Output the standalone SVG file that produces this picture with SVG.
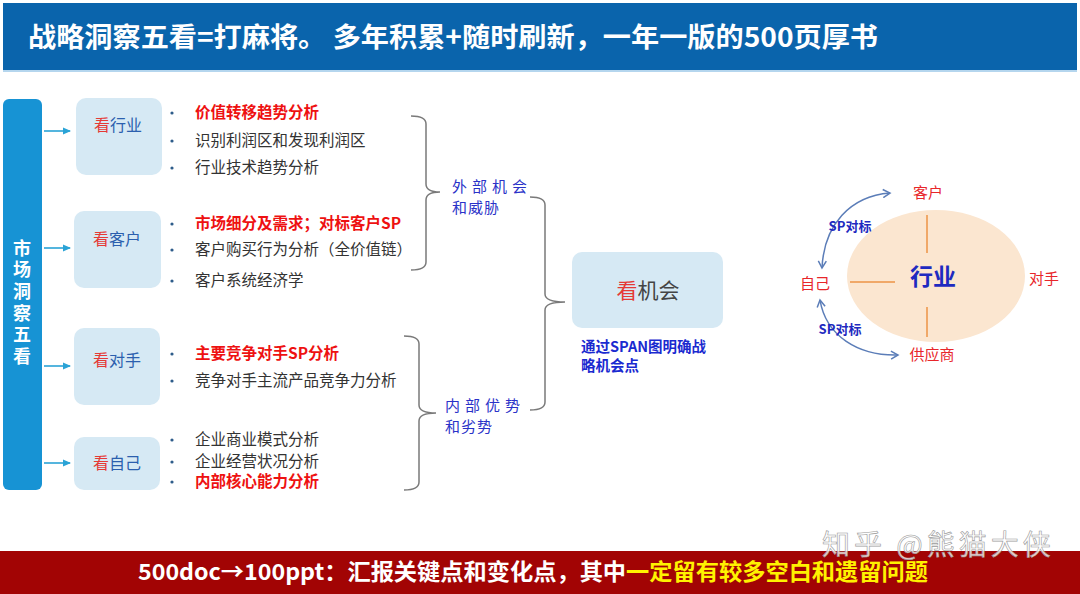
<svg xmlns="http://www.w3.org/2000/svg" width="1080" height="594" viewBox="0 0 1080 594">
<defs>
<style>
text{font-family:"Noto Sans CJK SC","Liberation Sans",sans-serif;}
.box{fill:#D6E9F4;}
.item{font-size:15.5px;fill:#333333;}
.hot{font-size:15.5px;fill:#EE1111;font-weight:bold;}
.dot{fill:#2E5C8A;}
.arr{stroke:#2AA3D6;stroke-width:1.6;fill:none;marker-end:url(#ah);}
.brace{stroke:#7A7A7A;stroke-width:1.5;fill:none;}
.lbl{font-size:15px;fill:#2A32C8;letter-spacing:5px;}
.kan{fill:#E53935;}
.bt{font-size:16px;fill:#2B5FAE;}
.red{font-size:15px;fill:#E8262A;}
.sp{font-size:13px;fill:#1E2AC0;font-weight:bold;}
.curve{stroke:#5B7DB8;stroke-width:1.5;fill:none;marker-end:url(#ah2);marker-start:url(#ah2s);}
.orange{stroke:#F0A868;stroke-width:2;}
.side{font-size:18px;fill:#FFFFFF;font-weight:bold;writing-mode:vertical-rl;letter-spacing:3.6px;}
</style>
<marker id="ah" markerWidth="8" markerHeight="8" refX="7" refY="4" orient="auto" markerUnits="userSpaceOnUse">
<path d="M0,0.5 L8,4 L0,7.5 Z" fill="#2AA3D6"/>
</marker>
<marker id="ah2" markerWidth="10" markerHeight="10" refX="8" refY="5" orient="auto" markerUnits="userSpaceOnUse">
<path d="M1,1 L8,5 L1,9" fill="none" stroke="#5B7DB8" stroke-width="1.5"/>
</marker>
<marker id="ah2s" markerWidth="10" markerHeight="10" refX="2" refY="5" orient="auto" markerUnits="userSpaceOnUse">
<path d="M9,1 L2,5 L9,9" fill="none" stroke="#5B7DB8" stroke-width="1.5"/>
</marker>
</defs>
<rect width="1080" height="594" fill="#FFFFFF"/>

<g id="title">
<rect x="3" y="3" width="1074" height="67" fill="#0A64AC"/>
<line x1="3" y1="71" x2="1077" y2="71" stroke="#9CC8E8" stroke-width="1.5"/>
<text x="28" y="47" font-size="27" font-weight="bold" fill="#FFFFFF" textLength="850" lengthAdjust="spacingAndGlyphs">战略洞察五看=打麻将。 多年积累+随时刷新，一年一版的500页厚书</text>
</g>

<g id="side">
<rect x="3" y="99" width="39" height="391" rx="6" fill="#1793D4"/>
<text x="22" y="239" class="side">市场洞察五看</text>
</g>

<g id="connectors">
<line x1="44" y1="131" x2="70" y2="131" class="arr"/>
<line x1="44" y1="248" x2="70" y2="248" class="arr"/>
<line x1="44" y1="366" x2="70" y2="366" class="arr"/>
<line x1="44" y1="463" x2="70" y2="463" class="arr"/>
<path class="brace" d="M411,116 Q426,116 426,124 L426,184 Q426,192 440,192 Q426,192 426,200 L426,262 Q426,270 411,270"/>
<path class="brace" d="M404,336 Q419,336 419,344 L419,405 Q419,413 436,413 Q419,413 419,421 L419,482 Q419,490 404,490"/>
<path class="brace" d="M530,197 Q545,197 545,205 L545,294 Q545,302 565,302 Q545,302 545,310 L545,402 Q545,410 530,410"/>
<path class="curve" d="M822,268 C824,225 850,196 890,193"/>
<path class="curve" d="M820,300 C826,336 858,356 898,355"/>
</g>

<g id="n-industry">
<rect class="box" x="76" y="98" width="86" height="77" rx="10"/>
<text x="118" y="131" text-anchor="middle" class="bt"><tspan class="kan">看</tspan>行业</text>
</g>
<g id="n-customer">
<rect class="box" x="74" y="211" width="87" height="77" rx="10"/>
<text x="117" y="245" text-anchor="middle" class="bt"><tspan class="kan">看</tspan>客户</text>
</g>
<g id="n-rival">
<rect class="box" x="74" y="328" width="86" height="77" rx="10"/>
<text x="117" y="366" text-anchor="middle" class="bt"><tspan class="kan">看</tspan>对手</text>
</g>
<g id="n-self">
<rect class="box" x="74" y="437" width="86" height="53" rx="10"/>
<text x="117" y="469" text-anchor="middle" class="bt"><tspan class="kan">看</tspan>自己</text>
</g>

<g id="bullets">
<circle class="dot" cx="172" cy="113" r="1.6"/><text x="195" y="118" class="hot">价值转移趋势分析</text>
<circle class="dot" cx="172" cy="141" r="1.6"/><text x="195" y="146" class="item">识别利润区和发现利润区</text>
<circle class="dot" cx="172" cy="168" r="1.6"/><text x="195" y="173" class="item">行业技术趋势分析</text>
<circle class="dot" cx="172" cy="224" r="1.6"/><text x="195" y="229" class="hot">市场细分及需求；对标客户SP</text>
<circle class="dot" cx="172" cy="250" r="1.6"/><text x="195" y="255" class="item">客户购买行为分析（全价值链）</text>
<circle class="dot" cx="172" cy="281" r="1.6"/><text x="195" y="286" class="item">客户系统经济学</text>
<circle class="dot" cx="172" cy="354" r="1.6"/><text x="195" y="359" class="hot">主要竞争对手SP分析</text>
<circle class="dot" cx="172" cy="381" r="1.6"/><text x="195" y="386" class="item">竞争对手主流产品竞争力分析</text>
<circle class="dot" cx="172" cy="440" r="1.6"/><text x="195" y="445" class="item">企业商业模式分析</text>
<circle class="dot" cx="172" cy="462" r="1.6"/><text x="195" y="467" class="item">企业经营状况分析</text>
<circle class="dot" cx="172" cy="482" r="1.6"/><text x="195" y="487" class="hot">内部核心能力分析</text>
</g>

<g id="label-external">
<text x="452" y="192" class="lbl">外部机会</text>
<text x="452" y="213" class="lbl" style="letter-spacing:1px">和威胁</text>
</g>
<g id="label-internal">
<text x="445" y="411" class="lbl">内部优势</text>
<text x="445" y="432" class="lbl" style="letter-spacing:1px">和劣势</text>
</g>

<g id="n-opportunity">
<rect class="box" x="572" y="252" width="151" height="76" rx="10"/>
<text x="648" y="298" text-anchor="middle" font-size="21" fill="#444444"><tspan class="kan">看</tspan>机会</text>
<text x="581" y="352" font-size="14.5" font-weight="bold" fill="#1A2AD0">通过SPAN图明确战</text>
<text x="581" y="371" font-size="14.5" font-weight="bold" fill="#1A2AD0">略机会点</text>
</g>

<g id="industry-map">
<ellipse cx="936" cy="276" rx="89" ry="66" fill="#FBE6D0"/>
<line class="orange" x1="927" y1="215" x2="927" y2="253"/>
<line class="orange" x1="850" y1="282" x2="895" y2="282"/>
<line class="orange" x1="927" y1="307" x2="927" y2="337"/>
<text x="933" y="285" text-anchor="middle" font-size="23" font-weight="bold" fill="#1E2AC0">行业</text>
<text x="928" y="198" text-anchor="middle" class="red">客户</text>
<text x="1044" y="284" text-anchor="middle" class="red">对手</text>
<text x="815" y="289" text-anchor="middle" class="red">自己</text>
<text x="932" y="360" text-anchor="middle" class="red">供应商</text>
<text x="850" y="231" text-anchor="middle" class="sp">SP对标</text>
<text x="840" y="334" text-anchor="middle" class="sp">SP对标</text>
</g>

<g id="footer">
<rect x="0" y="551" width="1080" height="43" fill="#A20404"/>
<text x="138" y="580" font-size="22.5" font-weight="bold" fill="#FFFFFF" textLength="790" lengthAdjust="spacingAndGlyphs">500doc→100ppt：汇报关键点和变化点，其中<tspan fill="#FFF200">一定留有较多空白和遗留问题</tspan></text>
<text x="822" y="555" font-size="28" fill="#FFFFFF" fill-opacity="0.8" stroke="#9A9A9A" stroke-width="0.6" letter-spacing="4">知乎 @熊猫大侠</text>
</g>
</svg>
